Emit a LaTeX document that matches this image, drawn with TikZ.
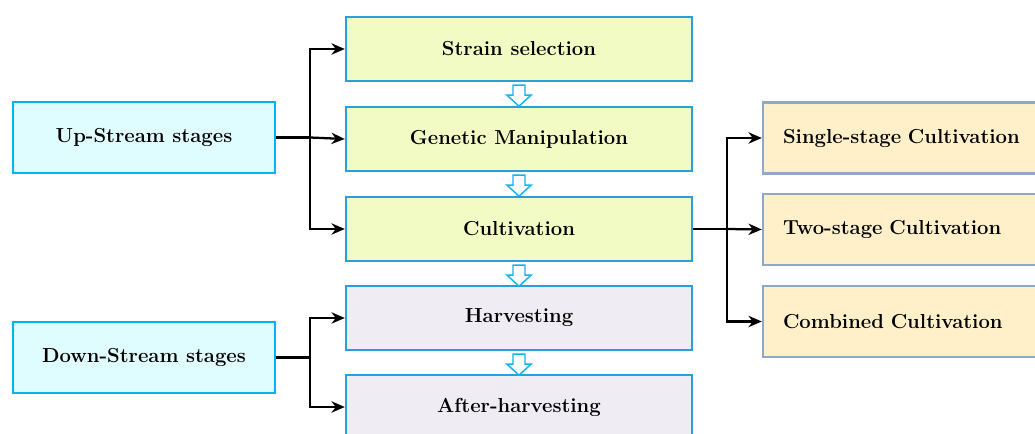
\documentclass[tikz,border=0pt]{standalone}
\usetikzlibrary{arrows.meta,calc}
\definecolor{lbord}{HTML}{00B4EE}
\definecolor{lfill}{HTML}{DFFCFE}
\definecolor{mbord}{HTML}{2A9FDA}
\definecolor{gfill}{HTML}{F2FBC4}
\definecolor{pfill}{HTML}{F0ECF4}
\definecolor{rbord}{HTML}{8FA8C8}
\definecolor{rfill}{HTML}{FFF0C9}
\definecolor{harrowc}{HTML}{10B4F0}
\tikzset{
  base/.style={draw, line width=1.8pt, inner sep=0pt, font=\fontsize{15.2}{17}\selectfont\bfseries},
  leftbox/.style={base, draw=lbord, fill=lfill, minimum width=196.5pt, minimum height=53.25pt},
  greenbox/.style={base, draw=mbord, fill=gfill, minimum width=259.5pt, minimum height=48pt},
  purplebox/.style={base, draw=mbord, fill=pfill, minimum width=259.5pt, minimum height=48pt},
  rightbox/.style={base, draw=rbord, fill=rfill, minimum width=211.5pt, minimum height=53.25pt, text width=181.5pt, align=left},
  conn/.style={line width=1.7pt, -{Stealth[length=10pt,width=8.5pt]}},
  harrow/.style={draw=harrowc, fill=white, line width=1.1pt, line join=miter},
}
\newcommand{\blockarrow}[1]{%
  \draw[harrow] ([shift={(-6,3)}]#1.south) -- ++(0,10) -- ++(-6,0) -- ++(12,11) -- ++(12,-11) -- ++(-6,0) -- ++(0,-10) -- cycle;}
\begin{document}
\begin{tikzpicture}[x=0.75pt,y=-0.75pt]
\useasboundingbox (0,0) rectangle (1035,434);
\clip (0,0) rectangle (1035,434);
\node[leftbox] (up) at (144,137.5) {Up-Stream stages};
\node[leftbox] (down) at (144,357.5) {Down-Stream stages};
\node[greenbox] (strain) at (519,49) {Strain selection};
\node[greenbox] (gen) at (519,139) {Genetic Manipulation};
\node[greenbox] (cult) at (519,229) {Cultivation};
\node[purplebox] (harv) at (519,318) {Harvesting};
\node[purplebox] (after) at (519,407) {After-harvesting};
\node[rightbox] (single) at (904,138) {Single-stage Cultivation};
\node[rightbox] (two) at (904,229.5) {Two-stage Cultivation};
\node[rightbox] (comb) at (904,321.5) {Combined Cultivation};
\coordinate (j1) at (310,0);
\coordinate (j2) at (727,0);
\draw[line width=1.7pt] (up.east) -- (up.east -| j1);
\draw[conn] (up.east -| j1) |- (strain.west);
\draw[conn] (up.east -| j1) -- (gen.west);
\draw[conn] (up.east -| j1) |- (cult.west);
\draw[line width=1.7pt] (down.east) -- (down.east -| j1);
\draw[conn] (down.east -| j1) |- (harv.west);
\draw[conn] (down.east -| j1) |- (after.west);
\draw[line width=1.7pt] (cult.east) -- (cult.east -| j2);
\draw[conn] (cult.east -| j2) |- (single.west);
\draw[conn] (cult.east -| j2) -- (two.west);
\draw[conn] (cult.east -| j2) |- (comb.west);
\blockarrow{strain}
\blockarrow{gen}
\blockarrow{cult}
\blockarrow{harv}
\end{tikzpicture}
\end{document}
